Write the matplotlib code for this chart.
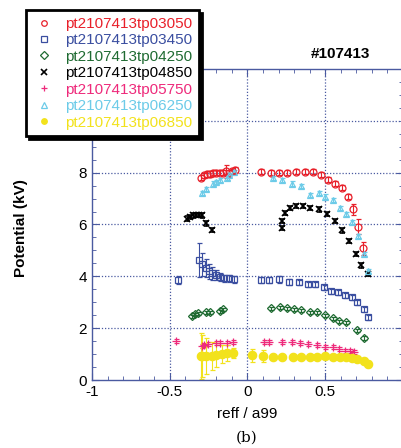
import matplotlib
matplotlib.use("Agg")
import matplotlib.pyplot as plt
from matplotlib.ticker import MultipleLocator
import numpy as np

plt.rcParams['font.family'] = ['Liberation Sans', 'DejaVu Sans']

labels = ["pt2107413tp03050", "pt2107413tp03450", "pt2107413tp04250", "pt2107413tp04850",
          "pt2107413tp05750", "pt2107413tp06250", "pt2107413tp06850"]
colors = ["#e8202a", "#3a4ea0", "#1f6b32", "#000000", "#ee2a7b", "#6ccbe8", "#f2e21c"]

x_red = [-0.30, -0.28, -0.26, -0.24, -0.22, -0.20, -0.18, -0.16, -0.14, -0.12, -0.10, -0.08,
         0.09, 0.148, 0.20, 0.257, 0.31, 0.367, 0.42, 0.47, 0.516, 0.565, 0.605, 0.645, 0.68, 0.71, 0.745]
y_red = [7.8, 7.9, 7.95, 7.95, 8.0, 8.0, 8.0, 8.0, 8.05, 8.0, 8.05, 8.1,
         8.04, 8.0, 8.0, 8.0, 8.04, 8.04, 8.04, 7.92, 7.73, 7.58, 7.42, 7.08, 6.58, 5.92, 5.08]
e_red = [0.1, 0.1, 0.1, 0.1, 0.1, 0.1, 0.1, 0.1, 0.25, 0.1, 0.1, 0.1,
         0.1, 0.1, 0.1, 0.1, 0.1, 0.1, 0.1, 0.1, 0.1, 0.1, 0.1, 0.1, 0.2, 0.3, 0.25]

x_blue = [-0.45, -0.315, -0.295, -0.27, -0.25, -0.23, -0.20, -0.175, -0.148, -0.116, -0.09,
          0.09, 0.141, 0.20, 0.264, 0.328, 0.386, 0.437, 0.495, 0.54, 0.585, 0.63, 0.669, 0.707, 0.746, 0.778]
y_blue = [3.85, 4.62, 4.46, 4.31, 4.19, 4.12, 4.04, 3.96, 3.92, 3.92, 3.88,
          3.85, 3.85, 3.88, 3.77, 3.77, 3.69, 3.69, 3.58, 3.42, 3.38, 3.27, 3.19, 3.0, 2.73, 2.42]
e_blue = [0.15, 0.65, 0.45, 0.35, 0.3, 0.25, 0.2, 0.15, 0.15, 0.12, 0.12,
          0.12, 0.12, 0.12, 0.12, 0.1, 0.1, 0.1, 0.1, 0.1, 0.1, 0.1, 0.1, 0.1, 0.1, 0.1]

x_green = [-0.36, -0.34, -0.32, -0.265, -0.24, -0.18, -0.16,
           0.154, 0.21, 0.257, 0.296, 0.347, 0.40, 0.45, 0.50, 0.547, 0.59, 0.636, 0.707, 0.746]
y_green = [2.46, 2.54, 2.58, 2.62, 2.62, 2.65, 2.73,
           2.77, 2.81, 2.77, 2.73, 2.69, 2.62, 2.62, 2.5, 2.38, 2.27, 2.23, 1.92, 1.62]

x_black = [-0.39, -0.37, -0.35, -0.33, -0.31, -0.29, -0.265, -0.23,
           0.22, 0.225, 0.244, 0.276, 0.315, 0.36, 0.405, 0.457, 0.514, 0.56, 0.61, 0.65, 0.695, 0.733, 0.772]
y_black = [6.23, 6.3, 6.35, 6.38, 6.38, 6.35, 6.04, 5.8,
           5.85, 6.15, 6.46, 6.65, 6.73, 6.73, 6.65, 6.58, 6.42, 6.12, 5.77, 5.35, 4.85, 4.42, 4.08]

x_mag = [-0.457, -0.295, -0.277, -0.257, -0.20, -0.174, -0.135, -0.096,
         0.103, 0.141, 0.22, 0.283, 0.34, 0.392, 0.45, 0.50, 0.547, 0.59, 0.63, 0.662, 0.688]
y_mag = [1.5, 1.31, 1.35, 1.38, 1.42, 1.42, 1.42, 1.46,
         1.46, 1.46, 1.46, 1.46, 1.42, 1.38, 1.35, 1.27, 1.27, 1.19, 1.12, 1.12, 1.08]

x_cyan = [-0.29, -0.265, -0.225, -0.20, -0.175, -0.135, -0.116, -0.09,
          0.167, 0.225, 0.284, 0.345, 0.405, 0.457, 0.50, 0.553, 0.598, 0.636, 0.675, 0.71, 0.746, 0.778]
y_cyan = [7.23, 7.38, 7.58, 7.65, 7.73, 7.8, 7.92, 8.04,
          7.8, 7.73, 7.58, 7.5, 7.15, 7.23, 7.08, 6.96, 6.65, 6.42, 6.08, 5.54, 4.85, 4.19]

x_yel = [-0.30, -0.29, -0.265, -0.23, -0.20, -0.167, -0.135, -0.096,
         0.026, 0.097, 0.167, 0.225, 0.29, 0.347, 0.40, 0.45, 0.50, 0.547, 0.598, 0.636, 0.675, 0.707, 0.746, 0.778]
y_yel = [0.92, 0.92, 0.92, 0.92, 0.96, 1.0, 1.04, 1.04,
         0.96, 0.92, 0.88, 0.88, 0.88, 0.88, 0.88, 0.88, 0.92, 0.88, 0.88, 0.88, 0.85, 0.81, 0.73, 0.62]
e_yel = [0.9, 0.8, 0.7, 0.55, 0.45, 0.35, 0.3, 0.2,
         0.25, 0.22, 0.08, 0.08, 0.08, 0.08, 0.08, 0.08, 0.08, 0.08, 0.08, 0.08, 0.1, 0.1, 0.12, 0.12]

x_ticks = [-1, -0.5, 0, 0.5]
x_ticklabels = ['-1', '-0.5', '0', '0.5']
y_ticks = [0, 2, 4, 6, 8]
y_ticklabels = ['0', '2', '4', '6', '8']

W, H = 401, 448
fig = plt.figure(figsize=(W / 100, H / 100), dpi=100)
L, R, T, B = 92, 403, 69, 380
ax = fig.add_axes([L / W, 1 - B / H, (R - L) / W, (B - T) / H])
ax.set_xlim(-1, 1)
ax.set_ylim(0, 12)

spc = "#4a5aa0"
for s in ax.spines.values():
    s.set_color(spc)
    s.set_linewidth(1.0)
ax.xaxis.set_minor_locator(MultipleLocator(0.1))
ax.yaxis.set_minor_locator(MultipleLocator(0.5))
ax.set_xticks(x_ticks)
ax.set_xticklabels(x_ticklabels)
ax.set_yticks(y_ticks)
ax.set_yticklabels(y_ticklabels)
ax.tick_params(which='both', direction='in', top=True, right=True, color=spc, labelsize=11, labelcolor='black')
ax.tick_params(which='major', length=5)
ax.tick_params(which='minor', length=3)
ax.grid(False)
for gx in [-0.5, 0, 0.5]:
    ax.axvline(gx, linestyle=(0, (1, 1.5)), color=spc, linewidth=0.9, zorder=0.5)
for gy in [2, 4, 6, 8, 10]:
    ax.axhline(gy, linestyle=(0, (1, 1.5)), color=spc, linewidth=0.9, zorder=0.5)

ms = 5
kw = dict(linestyle='none', capsize=1.8, elinewidth=0.8, capthick=0.8, markersize=ms, markeredgewidth=0.9)
h = []
h.append(ax.errorbar(x_red, y_red, yerr=e_red, marker='o', color=colors[0], mfc='none', **kw))
h.append(ax.errorbar(x_blue, y_blue, yerr=e_blue, marker='s', color=colors[1], mfc='none', **kw))
h.append(ax.errorbar(x_green, y_green, yerr=0.06, marker='D', color=colors[2], mfc='none', **dict(kw, markersize=4)))
h.append(ax.errorbar(x_black, y_black, yerr=0.08, marker='x', color=colors[3], **dict(kw, markeredgewidth=1.2)))
h.append(ax.errorbar(x_mag, y_mag, yerr=0.08, marker='+', color=colors[4], **dict(kw, markersize=6)))
h.append(ax.errorbar(x_cyan, y_cyan, yerr=0.08, marker='^', color=colors[5], mfc='none', **kw))
h.append(ax.errorbar(x_yel, y_yel, yerr=e_yel, marker='o', color=colors[6], mfc=colors[6], **dict(kw, markersize=6)))

leg = fig.legend([hh[0] for hh in h], labels, loc='upper left', bbox_to_anchor=(26 / W, 1 - 10 / H),
                 fontsize=11, frameon=True, fancybox=False, shadow={'color': 'black', 'alpha': 1},
                 handlelength=1.4, handletextpad=0.7, borderpad=0.45, labelspacing=0.16, borderaxespad=0)
leg.get_frame().set_edgecolor('black')
leg.get_frame().set_linewidth(2)
for t, c in zip(leg.get_texts(), colors):
    t.set_color(c)
for lh in leg.legend_handles:
    lh.set_markersize(4)

fig.text(340 / W, 1 - 54 / H, "#107413", fontsize=11, fontweight='bold', ha='center', va='center')
fig.text(21 / W, 1 - 228 / H, "Potential (kV)", fontsize=11, fontweight='bold', rotation=90, ha='center', va='center')
fig.text(247 / W, 1 - 414 / H, "reff / a99", fontsize=11, ha='center', va='center')
fig.text(247 / W, 1 - 438 / H, "(b)", fontsize=11, ha='center', va='center', family=['DejaVu Serif'])

fig.savefig("out.png", dpi=100)
